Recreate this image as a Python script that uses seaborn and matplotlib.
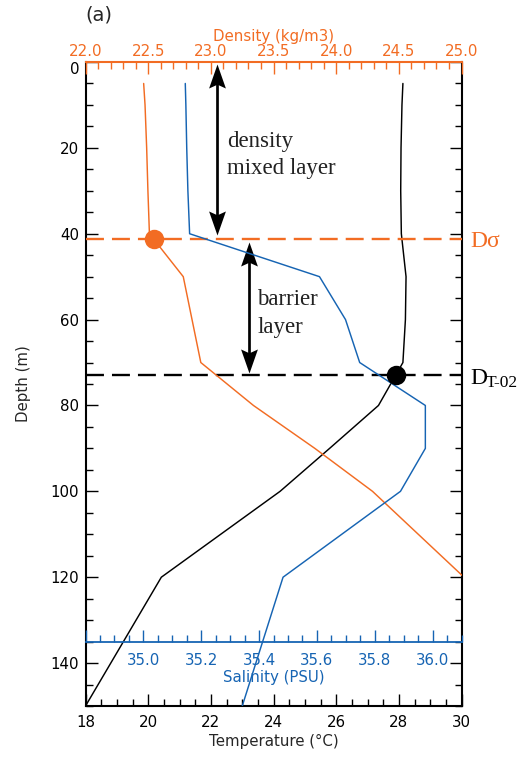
import numpy as np
import pandas as pd
import matplotlib
matplotlib.use("Agg")
import matplotlib.pyplot as plt
import matplotlib.transforms as mtransforms
from matplotlib.path import Path
from matplotlib.ticker import MultipleLocator, FixedLocator, FuncFormatter
import seaborn as sns

# ---- profile data -------------------------------------------------------
depth_m = [5, 10, 20, 30, 40, 50, 60, 70, 80, 90, 100, 120, 150]
temperature_c = [28.13, 28.10, 28.07, 28.06, 28.08, 28.23, 28.21, 28.13,
                 27.35, 25.79, 24.21, 20.42, 18.00]
salinity_psu = [35.145, 35.147, 35.150, 35.154, 35.160, 35.609, 35.699,
                35.748, 35.975, 35.975, 35.889, 35.483, 35.342]
density_kgm3 = [22.464, 22.475, 22.488, 22.498, 22.510, 22.780, 22.850,
                22.920, 23.340, 23.830, 24.290, 25.020, np.nan]

# layer depths and the profile values at those depths
sigma_layer_depth = 41.2
sigma_at_layer = 22.55
temp_layer_depth = 72.8
temp_at_layer = 27.90

# axis ranges and tick labels
temp_range = (18, 30)
dens_range = (22.0, 25.0)
sal_range = (34.8, 36.1)
depth_range = (150, 0)
sal_major_ticks = [34.8, 35.0, 35.2, 35.4, 35.6, 35.8, 36.0]
sal_axis_depth = 135

ORANGE = "#F26C23"
BLUE = "#1664B3"
BLACK = "#000000"
TEXT = "#222222"
SANS = "DejaVu Sans"
SERIF = "Liberation Serif"

sns.set_style("ticks")
plt.rcParams["font.family"] = [SANS]
plt.rcParams["axes.linewidth"] = 1.5

profiles = pd.DataFrame({
    "depth": depth_m,
    "temperature": temperature_c,
    "salinity": salinity_psu,
    "density": density_kgm3,
})

fig = plt.figure(figsize=(5.2, 7.58), dpi=100)
ax = fig.add_axes([85.5 / 520, 1 - 706 / 758, 376 / 520, 644 / 758])
ax_d = ax.twiny()
ax_s = ax.twiny()

FS = 10.8
maj = dict(length=8.6, width=1.0)
mnr = dict(length=5.0, width=1.0)

# ---- temperature (main axes) -------------------------------------------
sns.lineplot(data=profiles, x="temperature", y="depth", orient="y",
             estimator=None, color=BLACK, linewidth=1.05, ax=ax)
ax.set_xlim(*temp_range)
ax.set_ylim(*depth_range)
ax.xaxis.set_major_locator(MultipleLocator(2))
ax.xaxis.set_minor_locator(MultipleLocator(0.5))
ax.yaxis.set_major_locator(MultipleLocator(20))
ax.yaxis.set_minor_locator(MultipleLocator(5))
ax.tick_params(axis="both", which="both", direction="in", colors=BLACK,
               labelsize=FS, top=False, bottom=True, left=True, right=True)
ax.tick_params(axis="x", which="major", pad=6.5, **maj)
ax.tick_params(axis="x", which="minor", **mnr)
ax.tick_params(axis="y", which="major", pad=4.5, **maj)
ax.tick_params(axis="y", which="minor", **mnr)
ax.spines["top"].set_visible(False)
for s in ("left", "right", "bottom"):
    ax.spines[s].set_linewidth(1.5)
    ax.spines[s].set_color(BLACK)
ax.set_xlabel("Temperature (\u00b0C)", fontsize=FS, labelpad=2.5)
ax.set_ylabel("Depth (m)", fontsize=FS)
ax.yaxis.set_label_coords(-0.146, 0.5)

# ---- density (top axis) ------------------------------------------------
sns.lineplot(data=profiles, x="density", y="depth", orient="y",
             estimator=None, color=ORANGE, linewidth=1.05, ax=ax_d)
ax_d.set_xlim(*dens_range)
ax_d.xaxis.set_major_locator(MultipleLocator(0.5))
ax_d.xaxis.set_minor_locator(MultipleLocator(0.1))
ax_d.xaxis.set_major_formatter(FuncFormatter(lambda v, p: f"{v:.1f}"))
ax_d.tick_params(axis="x", which="both", direction="in", colors=ORANGE,
                 labelsize=FS, top=True, bottom=False,
                 labeltop=True, labelbottom=False)
ax_d.tick_params(axis="x", which="major", pad=2.5, **maj)
ax_d.tick_params(axis="x", which="minor", **mnr)
for s in ("left", "right", "bottom"):
    ax_d.spines[s].set_visible(False)
ax_d.spines["top"].set_color(ORANGE)
ax_d.spines["top"].set_linewidth(1.5)
ax_d.set_xlabel("Density (kg/m3)", color=ORANGE, fontsize=FS, labelpad=2)
ax_d.set_ylabel("")
ax_d.plot([sigma_at_layer], [sigma_layer_depth], "o", color=ORANGE,
          markersize=14, markeredgewidth=0, zorder=5, clip_on=False)

# ---- salinity (axis drawn inside the panel) ----------------------------
sns.lineplot(data=profiles, x="salinity", y="depth", orient="y",
             estimator=None, color=BLUE, linewidth=1.05, ax=ax_s)
ax_s.set_xlim(*sal_range)
ax_s.xaxis.set_ticks_position("bottom")
ax_s.xaxis.set_label_position("bottom")
ax_s.spines["bottom"].set_position(("data", sal_axis_depth))
for s in ("left", "right", "top"):
    ax_s.spines[s].set_visible(False)
ax_s.spines["bottom"].set_color(BLUE)
ax_s.spines["bottom"].set_linewidth(1.3)
ax_s.xaxis.set_major_locator(FixedLocator(sal_major_ticks))
ax_s.xaxis.set_minor_locator(MultipleLocator(0.05))
ax_s.xaxis.set_major_formatter(
    FuncFormatter(lambda v, p: "" if v < 34.9 else f"{v:.1f}"))
ax_s.tick_params(axis="x", which="both", direction="in", colors=BLUE,
                 labelsize=FS, bottom=True, top=False,
                 labelbottom=True, labeltop=False)
ax_s.tick_params(axis="x", which="major", pad=8, **maj)
ax_s.tick_params(axis="x", which="minor", **mnr)
ax_s.set_xlabel("Salinity (PSU)", color=BLUE, fontsize=FS, labelpad=1.5)
ax_s.set_ylabel("")

# temperature-based layer marker drawn on top of all profiles
ax_s.plot([temp_at_layer], [temp_layer_depth], "o", color=BLACK,
          markersize=14, markeredgewidth=0, zorder=6,
          transform=ax.transData, clip_on=False)

# ---- layer depth lines --------------------------------------------------
ax.axhline(sigma_layer_depth, color=ORANGE, linewidth=1.7,
           linestyle=(0, (7.6, 3.4)), zorder=3)
ax.axhline(temp_layer_depth, color=BLACK, linewidth=1.7,
           linestyle=(0, (7.6, 3.4)), zorder=3)

# ---- double-headed arrows ----------------------------------------------
_codes = [Path.MOVETO, Path.LINETO, Path.LINETO, Path.LINETO, Path.CLOSEPOLY]
head_up = Path([(0, 0), (-0.35, -1), (0, -0.84), (0.35, -1), (0, 0)], _codes)
head_down = Path([(0, 0), (-0.35, 1), (0, 0.84), (0.35, 1), (0, 0)], _codes)


def layer_arrow(x, top, bottom):
    ax.plot([x, x], [top + 2.5, bottom - 2.5], color=BLACK,
            linewidth=1.95, solid_capstyle="butt", zorder=4)
    ax.plot([x], [top], marker=head_up, markersize=34.6, color=BLACK,
            markeredgewidth=0, zorder=4, clip_on=False)
    ax.plot([x], [bottom], marker=head_down, markersize=34.6, color=BLACK,
            markeredgewidth=0, zorder=4, clip_on=False)


layer_arrow(22.2, 0.5, 40.3)
layer_arrow(23.23, 41.9, 72.5)

txt = dict(family=SERIF, fontsize=16.5, color=TEXT, va="baseline", ha="left")
ax.text(22.53, 19.9, "density", **txt)
ax.text(22.53, 26.2, "mixed layer", **txt)
ax.text(23.48, 56.6, "barrier", **txt)
ax.text(23.48, 63.1, "layer", **txt)

# ---- labels for the layer depths (right of the panel) -------------------
side = mtransforms.blended_transform_factory(ax.transAxes, ax.transData)
ax.text(1.0245, 43.0, "D\u03c3", transform=side, family=SERIF, fontsize=17,
        color=ORANGE, va="baseline", ha="left", clip_on=False)
ax.text(1.0245, 75.0, "D", transform=side, family=SERIF, fontsize=17,
        color=BLACK, va="baseline", ha="left", clip_on=False)
ax.text(1.0644, 75.6, "T-02", transform=side, family=SERIF, fontsize=12.5,
        color=BLACK, va="baseline", ha="left", clip_on=False)

fig.text(85 / 520, 1 - 20.5 / 758, "(a)", fontsize=14, family=SANS,
         va="baseline", ha="left")

# the surface depth label sits a little below its tick, clear of the top axis
fig.canvas.draw()
for tick in ax.yaxis.get_major_ticks():
    if abs(tick.get_loc()) < 1e-9:
        lab = tick.label1
        lab.set_transform(lab.get_transform()
                          + mtransforms.ScaledTranslation(
                              0, -4.5 / 72, fig.dpi_scale_trans))

fig.savefig("out.png", dpi=100)
